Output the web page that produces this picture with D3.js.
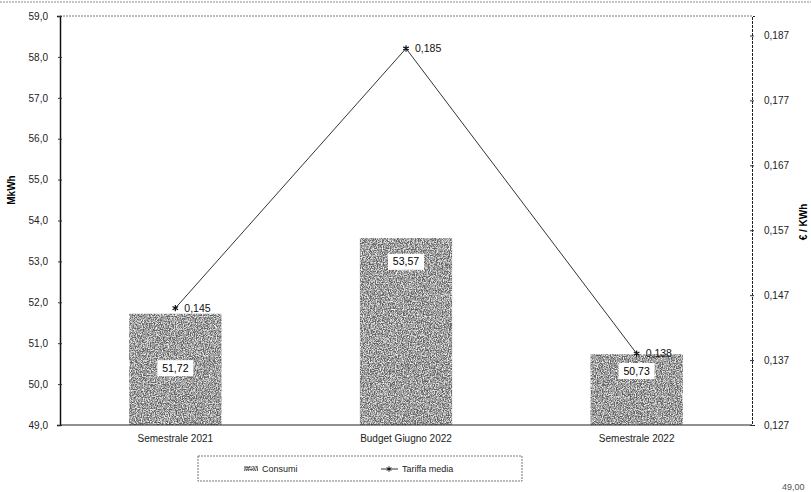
<!DOCTYPE html>
<html><head><meta charset="utf-8">
<script src="https://cdn.jsdelivr.net/npm/d3@7"></script>
<style>
body{margin:0;background:#fff;}
svg{display:block;font-family:"Liberation Sans",Arial,sans-serif;}
</style></head>
<body><svg id="c" width="811" height="492"></svg>
<script>
const categories = ["Semestrale 2021", "Budget Giugno 2022", "Semestrale 2022"];
const consumi = [51.72, 53.57, 50.73];
const consumiLabelAt = [50.39, 52.99, 50.32];
const tariffa = [0.145, 0.185, 0.138];
const leftTicks = [49, 50, 51, 52, 53, 54, 55, 56, 57, 58, 59];
const rightTicks = [0.127, 0.137, 0.147, 0.157, 0.167, 0.177, 0.187];
const seriesNames = ["Consumi", "Tariffa media"];

const loc = d3.formatLocale({decimal: ",", thousands: ".", grouping: [3], currency: ["", "€"]});
const f1 = loc.format(".1f"), f2 = loc.format(".2f"), f3 = loc.format(".3f");

const svg = d3.select("#c");
const L = 60, R = 752, T = 16, B = 425;

const defs = svg.append("defs");
const flt = defs.append("filter").attr("id", "noise").attr("x", 0).attr("y", 0).attr("width", 1).attr("height", 1);
flt.append("feTurbulence").attr("type", "fractalNoise").attr("baseFrequency", 0.85).attr("numOctaves", 2).attr("seed", 4).attr("result", "t");
flt.append("feColorMatrix").attr("in", "t").attr("type", "matrix")
  .attr("values", "1 0 0 0 0  1 0 0 0 0  1 0 0 0 0  0 0 0 0 1").attr("result", "g");
const ct = flt.append("feComponentTransfer").attr("in", "g").attr("result", "b");
["feFuncR", "feFuncG", "feFuncB"].forEach(n => ct.append(n).attr("type", "discrete").attr("tableValues", "0.1 0.1 0.15 0.35 0.65 0.9 0.9"));
flt.append("feComposite").attr("in", "b").attr("in2", "SourceAlpha").attr("operator", "in");

const x = d3.scaleBand().domain(categories).range([L, R]).paddingInner(0.6).paddingOuter(0.3);
const yL = d3.scaleLinear().domain([49, 59]).range([B, T]);
const yR = d3.scaleLinear().domain([0.127, 0.19]).range([B, T]);

// scan artifact top line
svg.append("line").attr("x1", 0).attr("x2", 811).attr("y1", 2).attr("y2", 2)
  .attr("stroke", "#888").attr("stroke-width", 1).attr("stroke-dasharray", "2,1");

// plot top border
svg.append("line").attr("x1", L).attr("x2", R).attr("y1", T).attr("y2", T)
  .attr("stroke", "#777").attr("stroke-width", 1).attr("stroke-dasharray", "2,1");

// bars
svg.append("g").selectAll("rect").data(consumi).join("rect")
  .attr("x", (d, i) => x(categories[i])).attr("width", x.bandwidth())
  .attr("y", d => yL(d)).attr("height", d => yL(49) - yL(d))
  .attr("fill", "#777").attr("filter", "url(#noise)");

// bar labels
const bl = svg.append("g").selectAll("g").data(consumi).join("g")
  .attr("transform", (d, i) => `translate(${x(categories[i]) + x.bandwidth() / 2},${yL(consumiLabelAt[i])})`);
bl.append("rect").attr("x", -18).attr("y", -8).attr("width", 36).attr("height", 16).attr("fill", "#fff");
bl.append("text").attr("text-anchor", "middle").attr("dy", "0.35em").attr("font-size", 10.5).text(d => f2(d));

// axes
const gl = svg.append("g").attr("transform", `translate(${L},0)`)
  .call(d3.axisLeft(yL).tickValues(leftTicks).tickFormat(f1).tickSize(3));
gl.select(".domain").attr("stroke", "#111").attr("stroke-width", 1.5);
gl.selectAll(".tick line").attr("x2", 2).attr("x1", -2).attr("stroke", "#333");
gl.selectAll("text").attr("font-size", 10).attr("x", -12).attr("fill", "#222").attr("font-family", "Liberation Sans, Arial, sans-serif");

const gr = svg.append("g").attr("transform", `translate(${R},0)`)
  .call(d3.axisRight(yR).tickValues(rightTicks).tickFormat(f3).tickSize(3));
gr.select(".domain").attr("stroke", "#222").attr("stroke-width", 1).attr("stroke-dasharray", "3,1");
gr.selectAll(".tick line").attr("x1", -2).attr("x2", 2).attr("stroke", "#333");
gr.selectAll("text").attr("font-size", 10).attr("x", 12).attr("fill", "#222").attr("font-family", "Liberation Sans, Arial, sans-serif");

svg.append("line").attr("x1", L).attr("x2", R).attr("y1", B).attr("y2", B)
  .attr("stroke", "#222").attr("stroke-width", 1.2);

// category labels
svg.append("g").selectAll("text").data(categories).join("text")
  .attr("x", d => x(d) + x.bandwidth() / 2).attr("y", B + 17)
  .attr("text-anchor", "middle").attr("font-size", 10).attr("fill", "#222").text(d => d);

// axis titles
svg.append("text").attr("transform", "translate(15,190) rotate(-90)").attr("text-anchor", "middle")
  .attr("font-size", 10).attr("font-weight", "bold").text("MkWh");
svg.append("text").attr("transform", "translate(807,222) rotate(-90)").attr("text-anchor", "middle")
  .attr("font-size", 10).attr("font-weight", "bold").text("€ / KWh");

// line
const cx = (d, i) => x(categories[i]) + x.bandwidth() / 2;
const line = d3.line().x(cx).y(d => yR(d));
svg.append("path").datum(tariffa).attr("d", line).attr("fill", "none").attr("stroke", "#333").attr("stroke-width", 1);
const sym = d3.symbol().type(d3.symbolAsterisk || d3.symbolCross).size(28);
svg.append("g").selectAll("path").data(tariffa).join("path")
  .attr("transform", (d, i) => `translate(${cx(d, i)},${yR(d)})`).attr("d", sym)
  .attr("fill", "none").attr("stroke", "#111").attr("stroke-width", 1.2);
svg.append("g").selectAll("text").data(tariffa).join("text")
  .attr("x", (d, i) => cx(d, i) + 9).attr("y", d => yR(d)).attr("dy", "0.35em")
  .attr("font-size", 10.5).attr("fill", "#111").text(d => f3(d));

// legend
const lg = svg.append("g");
lg.append("rect").attr("x", 198).attr("y", 456).attr("width", 324).attr("height", 25)
  .attr("fill", "none").attr("stroke", "#555").attr("stroke-width", 0.8).attr("stroke-dasharray", "2,1");
lg.append("rect").attr("x", 244).attr("y", 466).attr("width", 14).attr("height", 5).attr("fill", "#777").attr("filter", "url(#noise)");
lg.append("text").attr("x", 262).attr("y", 472).attr("font-size", 9).attr("fill", "#222").text(seriesNames[0]);
lg.append("line").attr("x1", 381).attr("x2", 398).attr("y1", 469).attr("y2", 469).attr("stroke", "#333");
lg.append("path").attr("transform", "translate(389,469)").attr("d", d3.symbol().type(d3.symbolAsterisk || d3.symbolCross).size(20))
  .attr("fill", "none").attr("stroke", "#111");
lg.append("text").attr("x", 402).attr("y", 472).attr("font-size", 9).attr("fill", "#222").text(seriesNames[1]);

// scan artifacts
svg.append("text").attr("x", 782).attr("y", 490).attr("font-size", 9).attr("fill", "#555").text("49,00");
</script></body></html>
